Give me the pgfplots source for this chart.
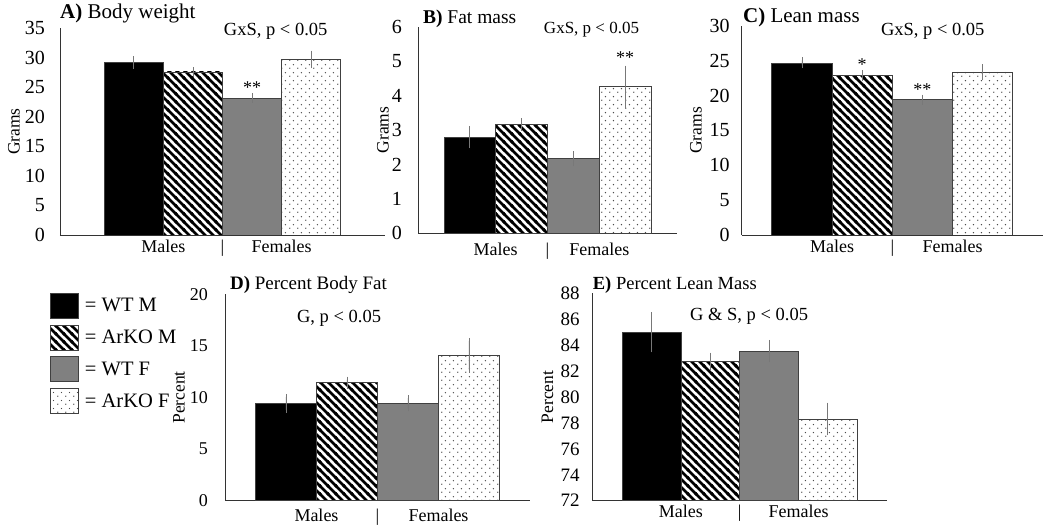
\documentclass[border=0pt]{standalone}
\usepackage{fontspec}
\setmainfont{Liberation Serif}
\usepackage{pgfplots}
\pgfplotsset{compat=1.18}
\usetikzlibrary{patterns}

% diagonal stripes, top-left to bottom-right
\pgfdeclarepatternformonly{hatch}{\pgfqpoint{-1pt}{-1pt}}{\pgfqpoint{9pt}{9pt}}{\pgfqpoint{8pt}{8pt}}{%
  \pgfsetlinewidth{2.8pt}
  \pgfpathmoveto{\pgfqpoint{-1pt}{9pt}}\pgfpathlineto{\pgfqpoint{9pt}{-1pt}}
  \pgfpathmoveto{\pgfqpoint{-1pt}{1pt}}\pgfpathlineto{\pgfqpoint{1pt}{-1pt}}
  \pgfpathmoveto{\pgfqpoint{7pt}{9pt}}\pgfpathlineto{\pgfqpoint{9pt}{7pt}}
  \pgfusepath{stroke}}
% staggered small dots
\pgfdeclarepatternformonly{sdots}{\pgfqpoint{0pt}{0pt}}{\pgfqpoint{8pt}{8pt}}{\pgfqpoint{8pt}{8pt}}{%
  \pgfpathcircle{\pgfqpoint{2pt}{2pt}}{0.8pt}
  \pgfpathcircle{\pgfqpoint{6pt}{6pt}}{0.8pt}
  \pgfusepath{fill}}

\definecolor{midgray}{RGB}{128,128,128}
\definecolor{errgray}{RGB}{120,120,120}

\tikzset{
  note/.style={font=\fontsize{18.5}{20}\selectfont},
  star/.style={font=\fontsize{18}{20}\selectfont, yshift=-4pt},
}

\pgfplotsset{
  panel/.style={
    scale only axis, anchor=south west,
    axis lines*=left,
    axis line style={black!80, line width=0.9pt},
    xmin=-1, xmax=4, ymin=0,
    xtick={0.5,1.5,2.5}, xticklabels={Males,|,Females},
    major tick length=0pt,
    xticklabel style={font=\fontsize{18}{20}\selectfont, inner sep=0pt, anchor=north,
      text height=12.5pt, text depth=3.5pt},
    yticklabel style={inner sep=0pt},
    /pgf/number format/assume math mode=true,
    ylabel style={font=\fontsize{17.5}{19}\selectfont, anchor=center},
    every axis title shift=0pt,
    title style={anchor=base west, inner sep=0pt},
    clip mode=individual,
  },
  bar/.style={ybar, bar width=1, bar shift=0pt, draw=black!75, line width=0.8pt,
    error bars/y dir=both, error bars/y explicit,
    error bars/error bar style={errgray, line width=0.9pt},
    error bars/error mark options={errgray, line width=0.9pt, mark size=3pt},
    legend image code/.code={\draw[##1, line width=0.8pt] (0pt,-12.5pt) rectangle (28pt,12.5pt);}},
  wtm/.style={bar, fill=black},
  kom/.style={bar, preaction={fill=white}, pattern=hatch, pattern color=black},
  wtf/.style={bar, fill=midgray},
  kof/.style={bar, preaction={fill=white}, pattern=sdots, pattern color=black!70},
}

\begin{document}
\begin{tikzpicture}
\useasboundingbox (0,0) rectangle (1050pt,526pt);

% A) Body weight
\begin{axis}[panel, at={(60pt,291pt)}, width=325pt, height=206.7pt,
  xmin=-1.25, xmax=4.25, ymax=35, ytick={0,5,...,35},
  xticklabel style={yshift=-5pt},
  yticklabel style={font=\fontsize{20}{22}\selectfont, xshift=-15pt},
  ylabel={Grams}, ylabel style={at={(axis description cs:-0.1415,0.5)}},
  title={\textbf{A)} Body weight}, title style={at={(0,1.048)}, font=\fontsize{21}{23}\selectfont}]
\addplot[wtm] coordinates {(0,29.2) +- (0,0.6)};
\addplot[kom] coordinates {(1,27.6) +- (0,0.3)};
\addplot[wtf] coordinates {(2,23.2) +- (0,0.3)};
\addplot[kof] coordinates {(3,29.7) +- (0,1.0)};
\node[note] at (axis cs:2.4,34.5) {GxS, p < 0.05};
\node[star] at (axis cs:2,25.7) {**};
\end{axis}

% B) Fat mass
\begin{axis}[panel, at={(418pt,292.7pt)}, width=259pt, height=206.6pt,
  ymax=6, ytick={0,1,...,6},
  xticklabel style={yshift=-9.5pt},
  yticklabel style={font=\fontsize{20}{22}\selectfont, xshift=-16pt},
  ylabel={Grams}, ylabel style={at={(axis description cs:-0.135,0.5)}},
  title={\textbf{B)} Fat mass}, title style={at={(0.019,1.016)}, font=\fontsize{19.5}{21}\selectfont}]
\addplot[wtm] coordinates {(0,2.79) +- (0,0.24)};
\addplot[kom] coordinates {(1,3.16) +- (0,0.09)};
\addplot[wtf] coordinates {(2,2.17) +- (0,0.13)};
\addplot[kof] coordinates {(3,4.26) +- (0,0.52)};
\node[note, font=\fontsize{17}{19}\selectfont] at (axis cs:2.35,5.91) {GxS, p < 0.05};
\node[star] at (axis cs:3,5.23) {**};
\end{axis}

% C) Lean mass
\begin{axis}[panel, at={(741.7pt,291pt)}, width=301.3pt, height=209pt,
  ymax=30, ytick={0,5,...,30},
  xticklabel style={yshift=-5pt},
  yticklabel style={font=\fontsize{20}{22}\selectfont, xshift=-12pt},
  ylabel={Grams}, ylabel style={at={(axis description cs:-0.152,0.5)}},
  title={\textbf{C)} Lean mass}, title style={at={(0.004,1.016)}, font=\fontsize{21}{23}\selectfont}]
\addplot[wtm] coordinates {(0,24.7) +- (0,0.35)};
\addplot[kom] coordinates {(1,22.9) +- (0,0.3)};
\addplot[wtf] coordinates {(2,19.4) +- (0,0.3)};
\addplot[kof] coordinates {(3,23.4) +- (0,0.7)};
\node[note] at (axis cs:2.17,29.2) {GxS, p < 0.05};
\node[star] at (axis cs:1,25.1) {*};
\node[star] at (axis cs:2,21.5) {**};
\end{axis}

% D) Percent body fat, with the legend
\begin{axis}[panel, at={(225pt,25.3pt)}, width=305pt, height=206.4pt,
  ymax=20, ytick={0,5,...,20},
  xticklabel style={yshift=-8pt},
  yticklabel style={font=\fontsize{18}{20}\selectfont, xshift=-17pt},
  ylabel={Percent}, ylabel style={at={(axis description cs:-0.151,0.5)}},
  title={\textbf{D)} Percent Body Fat}, title style={at={(0.016,1.024)}, font=\fontsize{19}{21}\selectfont},
  legend style={at={(-0.5738,1.0078)}, anchor=north west, draw=none, fill=none,
    inner sep=0pt, row sep=6pt, font=\fontsize{20.5}{22}\selectfont,
    cells={anchor=west}, /tikz/every odd column/.append style={column sep=4pt}},
  legend cell align=left]
\addplot[wtm] coordinates {(0,9.44) +- (0,0.63)};
\addlegendentry{= WT M}
\addplot[kom] coordinates {(1,11.43) +- (0,0.3)};
\addlegendentry{= ArKO M}
\addplot[wtf] coordinates {(2,9.45) +- (0,0.5)};
\addlegendentry{= WT F}
\addplot[kof] coordinates {(3,14.09) +- (0,1.39)};
\addlegendentry{= ArKO F}
\node[note] at (axis cs:0.87,17.7) {G, p < 0.05};
\end{axis}

% E) Percent lean mass
\begin{axis}[panel, at={(592.7pt,25.3pt)}, width=294pt, height=207.4pt,
  ymin=72, ymax=88, ytick={72,74,...,88},
  xticklabel style={yshift=-4pt},
  yticklabel style={font=\fontsize{19}{21}\selectfont, xshift=-13pt},
  ylabel={Percent}, ylabel style={at={(axis description cs:-0.154,0.5)}},
  title={\textbf{E)} Percent Lean Mass}, title style={at={(0,1.016)}, font=\fontsize{18.5}{20}\selectfont}]
\addplot[wtm] coordinates {(0,85.0) +- (0,1.32)};
\addplot[kom] coordinates {(1,82.73) +- (0,0.46)};
\addplot[wtf] coordinates {(2,83.55) +- (0,0.62)};
\addplot[kof] coordinates {(3,78.3) +- (0,1.03)};
\node[note] at (axis cs:1.66,86.2) {G \& S, p < 0.05};
\end{axis}
\end{tikzpicture}
\end{document}
